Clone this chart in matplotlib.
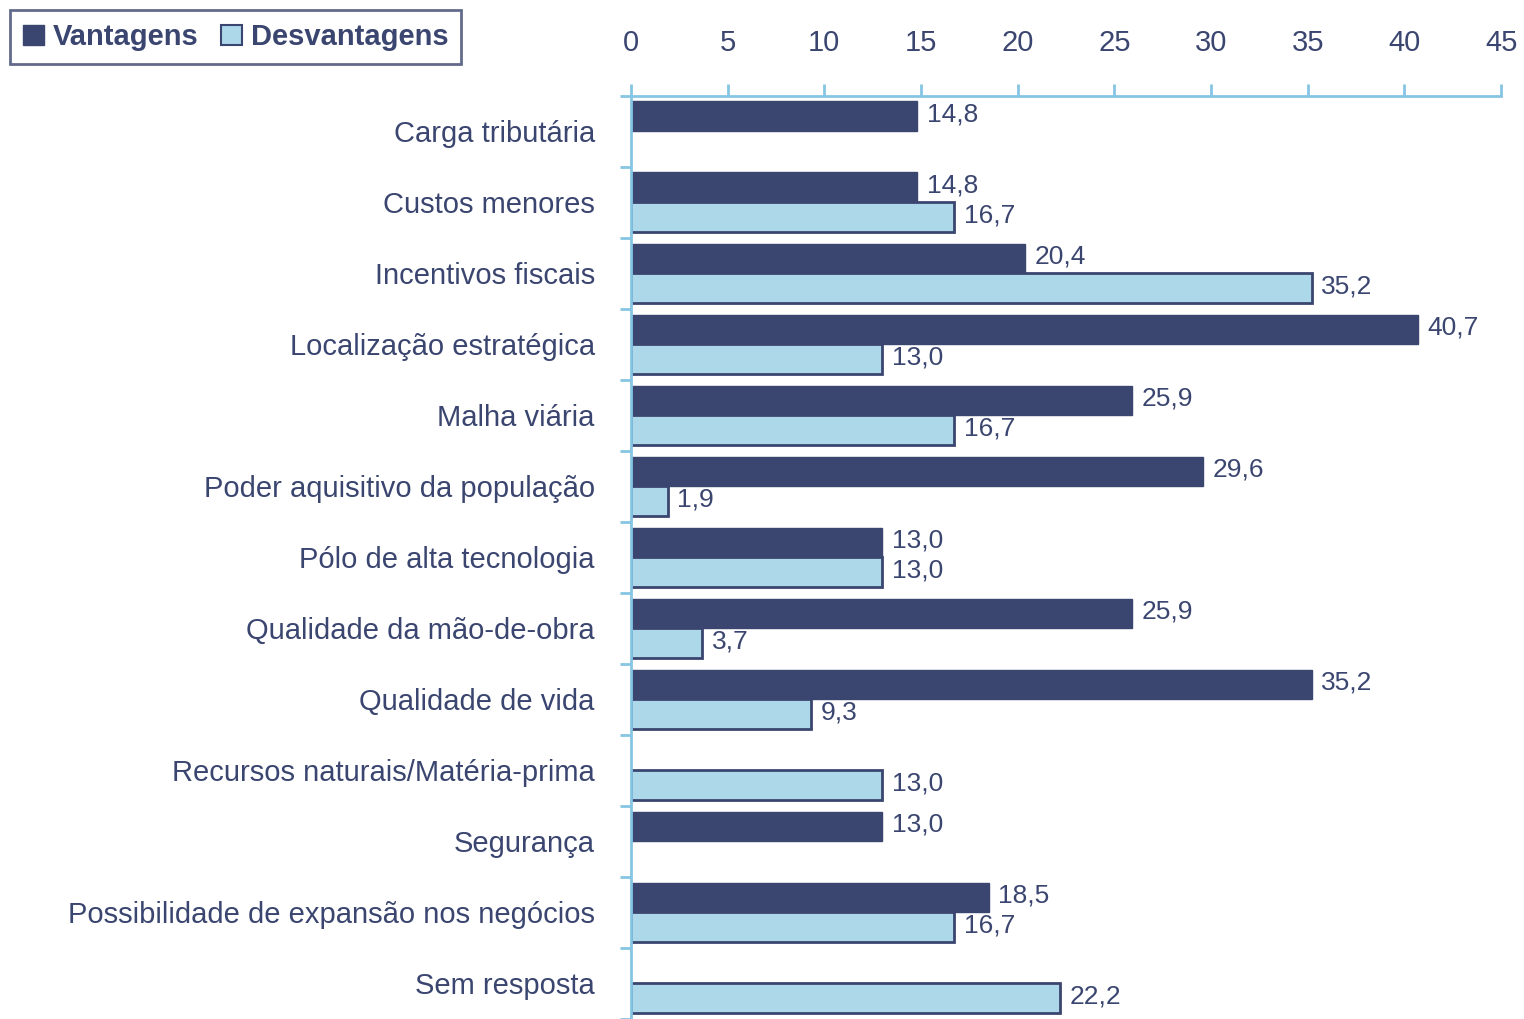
import numpy as np
import matplotlib
matplotlib.use("Agg")
import matplotlib.pyplot as plt
from matplotlib.patches import Patch

plt.rcParams['font.family'] = ['Liberation Sans', 'DejaVu Sans']

categorias = ["Carga tributária", "Custos menores", "Incentivos fiscais",
              "Localização estratégica", "Malha viária",
              "Poder aquisitivo da população", "Pólo de alta tecnologia",
              "Qualidade da mão-de-obra", "Qualidade de vida",
              "Recursos naturais/Matéria-prima", "Segurança",
              "Possibilidade de expansão nos negócios", "Sem resposta"]
vantagens = [14.8, 14.8, 20.4, 40.7, 25.9, 29.6, 13.0, 25.9, 35.2, np.nan, 13.0, 18.5, np.nan]
desvantagens = [np.nan, 16.7, 35.2, 13.0, 16.7, 1.9, 13.0, 3.7, 9.3, 13.0, np.nan, 16.7, 22.2]
xticks = [0, 5, 10, 15, 20, 25, 30, 35, 40, 45]

navy = "#3B4670"
light = "#ADD8EA"
axis_col = "#86C5E4"

fig = plt.figure(figsize=(15.24, 10.19), dpi=100)
ax = fig.add_axes([0.414, 0.0, 0.571, 0.906])

n = len(categorias)
centers = np.arange(n) + 0.5
h = 0.42
v = np.array(vantagens)
d = np.array(desvantagens)
mv = ~np.isnan(v)
md = ~np.isnan(d)

ax.barh(centers[mv] - h / 2, v[mv], height=h, color=navy, edgecolor=navy, linewidth=1)
ax.barh(centers[md] + h / 2, d[md], height=h, color=light, edgecolor=navy, linewidth=2)

def fmt(x):
    return f"{x:.1f}".replace('.', ',')

for c, val in zip(centers[mv], v[mv]):
    ax.text(val + 0.5, c - h / 2 - 0.03, fmt(val), va='center', ha='left',
            fontsize=19, color=navy)
for c, val in zip(centers[md], d[md]):
    ax.text(val + 0.5, c + h / 2 - 0.03, fmt(val), va='center', ha='left',
            fontsize=19, color=navy)

ax.set_xlim(0, 45)
ax.set_ylim(n, 0)
ax.xaxis.tick_top()
ax.set_xticks(xticks)
ax.set_xticklabels([str(t) for t in xticks])
ax.tick_params(axis='x', colors=axis_col, labelcolor=navy, labelsize=21,
               length=9, width=2, pad=19, direction='out')

ax.set_yticks(centers)
ax.set_yticklabels(categorias)
ax.set_yticks(np.arange(n + 1), minor=True)
ax.tick_params(axis='y', which='major', length=0, labelsize=21, labelcolor=navy, pad=26)
ax.tick_params(axis='y', which='minor', length=8, width=2, colors=axis_col, direction='out')

for s in ['right', 'bottom']:
    ax.spines[s].set_visible(False)
for s in ['top', 'left']:
    ax.spines[s].set_color(axis_col)
    ax.spines[s].set_linewidth(2)

handles = [Patch(facecolor=navy, edgecolor=navy, label="Vantagens"),
           Patch(facecolor=light, edgecolor=navy, linewidth=1.5, label="Desvantagens")]
leg = fig.legend(handles=handles, loc='upper left', bbox_to_anchor=(0.0066, 0.99),
                 borderaxespad=0, ncol=2, frameon=True, fancybox=False,
                 handlelength=0.7, handleheight=0.7,
                 handletextpad=0.3, columnspacing=0.8, borderpad=0.45,
                 prop={'size': 21, 'weight': 'bold'})
leg.get_frame().set_edgecolor(navy)
leg.get_frame().set_linewidth(2)
for t in leg.get_texts():
    t.set_color(navy)

fig.savefig("out.png", dpi=100)
